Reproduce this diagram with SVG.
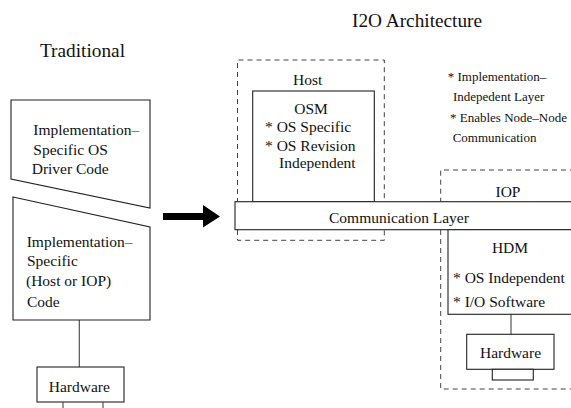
<svg xmlns="http://www.w3.org/2000/svg" width="571" height="408" viewBox="0 0 571 408">
<style>
.box{fill:#fff;stroke:#222;stroke-width:1.1}
.dash{fill:none;stroke:#444;stroke-width:1;stroke-dasharray:5,4}
.ln{fill:none;stroke:#444;stroke-width:1.1}
text{font-family:"Liberation Serif","Times New Roman",serif;fill:#111}
.t{font-size:15.5px}
.s{font-size:13px}
.h{font-size:19.3px}
.c{text-anchor:middle}
</style>
<rect width="571" height="408" fill="#fff"/>
<g id="title-traditional"><text class="h" x="40" y="56.5">Traditional</text></g>
<g id="title-i2o"><text class="h" x="352" y="26.5">I2O Architecture</text></g>

<g id="host-frame">
<path class="dash" d="M237.5,230 V60 H384.3 V201.7 M237.5,230 V240.3 H384.3 V230"/>
<text class="t c" x="307.7" y="85">Host</text>
</g>
<g id="iop-frame">
<path class="dash" d="M575,170 H440.7 V201.7 M440.7,230 V389 H575"/>
<text class="t c" x="508" y="196.7">IOP</text>
</g>

<g id="connectors">
<line class="ln" x1="79.3" y1="320" x2="79.3" y2="367"/>
<line class="ln" x1="511" y1="314.3" x2="511" y2="334.3"/>
<path d="M163,213 H203 V205 L220,216.5 L203,227.5 V220 H163 Z" fill="#000"/>
</g>

<g id="os-driver">
<polygon class="box" points="11,100 150,100 150,208 11,179"/>
<text class="t" x="33.3" y="135">Implementation–</text>
<text class="t" x="33.3" y="154.5">Specific OS</text>
<text class="t" x="31.7" y="174">Driver Code</text>
</g>
<g id="impl-code">
<polygon class="box" points="13,197 150,227 150,320 13,320"/>
<text class="t" x="26.7" y="246.5">Implementation–</text>
<text class="t" x="27" y="266">Specific</text>
<text class="t" x="26" y="286">(Host or IOP)</text>
<text class="t" x="27" y="306.5">Code</text>
</g>
<g id="hardware-left">
<rect class="box" x="37" y="367" width="87" height="35"/>
<path class="ln" d="M63,402 V410 M103,402 V410"/>
<text class="t c" x="79.3" y="391.5">Hardware</text>
</g>

<g id="osm">
<rect class="box" x="252.7" y="91" width="121.6" height="110.7"/>
<text class="t c" x="311" y="114">OSM</text>
<text class="t" x="265" y="132.3">* OS Specific</text>
<text class="t" x="265" y="151">* OS Revision</text>
<text class="t" x="279" y="168">Independent</text>
</g>

<g id="comm-layer">
<rect class="box" x="235" y="201.7" width="345" height="28"/>
<text class="t" x="329" y="223.3">Communication Layer</text>
</g>

<g id="notes">
<text class="s" x="447.7" y="81">* Implementation–</text>
<text class="s" x="453" y="101">Indepedent Layer</text>
<text class="s" x="450" y="121.5">* Enables Node–Node</text>
<text class="s" x="452.7" y="141.5">Communication</text>
</g>

<g id="hdm">
<rect class="box" x="448" y="229.7" width="132" height="84.6"/>
<text class="t c" x="510" y="253.3">HDM</text>
<text class="t" x="453" y="283.3">* OS Independent</text>
<text class="t" x="453" y="306.7">* I/O Software</text>
</g>
<g id="hardware-right">
<rect class="box" x="466.7" y="334.3" width="87.3" height="35"/>
<rect class="box" x="492.3" y="369.3" width="41" height="10.7"/>
<text class="t c" x="510.5" y="358.3">Hardware</text>
</g>
</svg>
